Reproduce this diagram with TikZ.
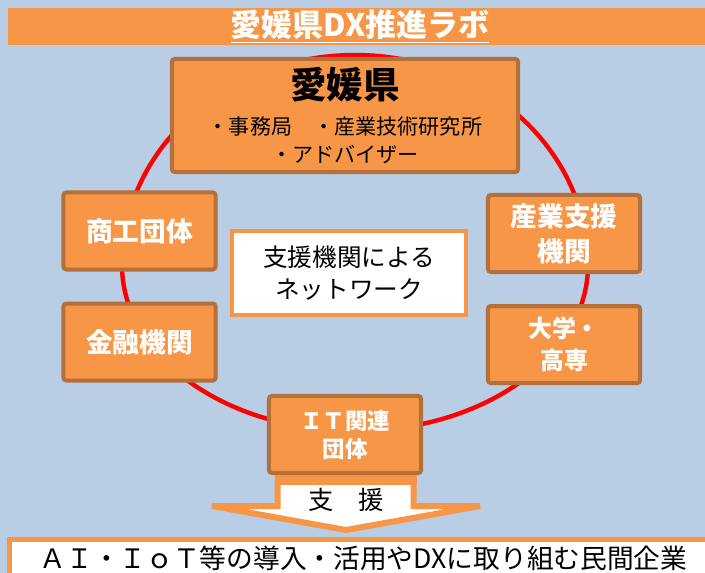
\documentclass[tikz,border=0pt]{standalone}
\usepackage{fontspec}
\setmainfont{Noto Sans CJK JP}
\definecolor{bgblue}{HTML}{B9CDE4}
\definecolor{orng}{HTML}{F79646}
\definecolor{brwn}{HTML}{B4703A}
\definecolor{ringred}{HTML}{FF0000}

\begin{document}
\begin{tikzpicture}[x=0.025cm,y=-0.025cm,node distance=2.775cm,
  org/.style={draw=brwn,fill=orng,line width=0.1cm,rounded corners=2pt,inner sep=0pt,
    align=center,text=white,font=\bfseries\fontsize{19}{25}\selectfont,
    minimum width=3.8cm,minimum height=1.925cm},
  netbox/.style={draw=orng,fill=white,line width=0.1cm,inner sep=0pt,align=center,
    font=\fontsize{17.5}{22.7}\selectfont,minimum width=5.85cm,minimum height=2.1cm},
  ring/.style={draw=ringred,line width=0.11cm},
  arrw/.style={draw=orng,fill=white,line width=0.15cm,line join=miter}]

\clip (0,0) rectangle (705,573);
\fill[bgblue] (0,0) rectangle (705,573);

\node[fill=orng,minimum width=17.6cm,minimum height=0.925cm,inner sep=0pt,text=white,
  font=\bfseries\fontsize{22}{24}\selectfont] (title) at (360,26.5) {\underline{愛媛県DX推進ラボ}};

\draw[ring] (122,265) arc[start angle=180,end angle=360,x radius=233,y radius=210]
  arc[start angle=0,end angle=180,x radius=233,y radius=166];

\draw[arrw] (277.5,481) -- (277.5,506) -- (212,506) -- (346,530) -- (480,506)
  -- (413.5,506) -- (413.5,481) -- cycle;
\fill[orng] (274.5,470) rectangle (416.5,485);
\node[font=\fontsize{18}{20}\selectfont] (support) at (346,500) {支　援};

\node[org,text=black,minimum width=8.65cm,minimum height=2.825cm,
  font=\fontsize{15}{20}\selectfont] (pref) at (345,115.5)
  {{\fontsize{26}{30}\selectfont\bfseries 愛媛県}\\[5pt]
   ・事務局　・産業技術研究所\\
   ・アドバイザー};
\node[org] (shoko) at (139.5,231) {商工団体};
\node[org] (kinyu) [below of=shoko] {金融機関};
\node[org] (sangyo) at (564,233.5) {産業支援\\機関};
\node[org,font=\bfseries\fontsize{17}{22.7}\selectfont] (daigaku) [below of=sangyo] {大学・\\高専};
\node[org,font=\bfseries\fontsize{16}{20}\selectfont] (itdan) at (345,434.5) {ＩＴ関連\\団体};
\node[netbox] (net) at (349,273) {支援機関による\\ネットワーク};

\node[draw=orng,fill=white,line width=0.125cm,inner sep=0pt,minimum width=17.7cm,
  minimum height=0.925cm,font=\fontsize{19}{22}\selectfont] (firms) at (363.5,558)
  {ＡＩ・ＩｏＴ等の導入・活用やDXに取り組む民間企業};

\end{tikzpicture}
\end{document}
